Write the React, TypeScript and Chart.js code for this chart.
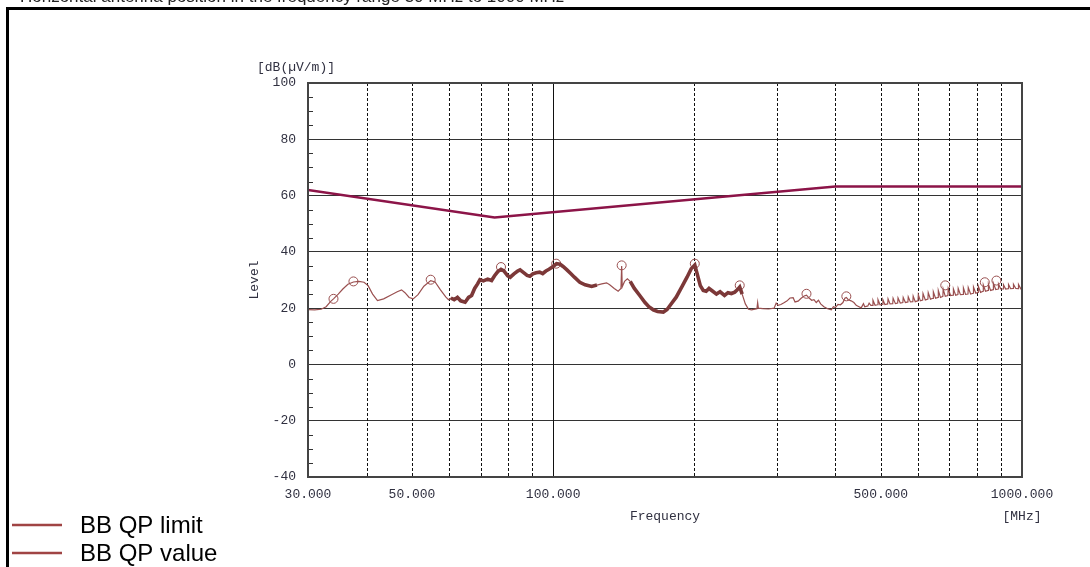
import React, { useEffect, useRef } from "react";
import { Chart, registerables } from "chart.js";

Chart.register(...registerables);

// ---- data ----
const FREQ_MHZ = [
  30, 31, 32, 32.8, 33.5, 34.0, 34.8, 35.6, 36.5, 37.5, 38.5, 39.5, 40.3, 41.2, 42.2, 43.5, 45, 46.5, 47.5, 48.3,
  49.3, 50.3, 51.5, 53, 54.8, 56, 57.5, 59, 59.8, 60.5, 61.5, 62.5, 63.5, 64.9, 66, 67, 68, 69, 69.8, 71,
  72.5, 73.9, 75, 76.2, 77.4, 78.5, 80, 81, 82.5, 84, 85, 86.5, 88, 89.2, 90.5, 92, 93.6, 95, 96.5, 98,
  100, 101.7, 103.5, 105, 107, 109, 111, 114, 117, 120.8, 124, 127, 130, 132, 135, 137.6, 139.5, 140, 140.4, 142,
  144, 146, 149, 153, 157, 160, 163.5, 167, 171.8, 175, 178, 183, 188, 193, 197, 200.5, 203, 206, 209, 212,
  215, 219, 223, 227, 232, 236, 240, 244, 247, 250, 253, 257, 261, 265, 272, 273, 274, 280, 288, 296,
  299, 302, 306, 310, 315, 320, 325, 328, 333, 338, 343, 347, 352, 356, 360, 364, 368, 372, 378, 385,
  392, 396, 400, 405, 410, 415, 419, 422, 426, 432, 438, 443, 448, 454, 459, 462, 469, 472, 476,
  480, 481, 486, 492, 493, 498, 504, 505, 510, 517, 518, 523, 530, 531, 537, 543, 544, 550,
  557, 558, 564, 571, 572, 578, 585, 586, 592, 600, 601, 607, 614, 615, 622, 630, 631, 638,
  646, 647, 654, 662, 663, 670, 678, 679, 686, 695, 696, 704, 713, 714, 722, 730, 731, 739,
  749, 750, 758, 767, 768, 777, 787, 788, 797, 806, 807, 816, 826, 827, 836, 847, 848, 857,
  868, 869, 879, 890, 891, 901, 912, 913, 923, 935, 936, 946, 958, 959, 970, 982, 983, 994, 1000,
];
const LEVEL_DB = [
  19.5, 19.4, 19.6, 20.5, 22.3, 23.3, 25.0, 26.8, 28.5, 29.3, 29.5, 29.2, 28.0, 25.0, 22.7, 23.3, 24.6, 25.8, 26.5, 25.5,
  23.8, 23.3, 24.8, 27.8, 29.8, 29.3, 26.5, 24.0, 23.0, 23.6, 23.0, 23.8, 22.6, 22.1, 23.8, 24.5, 27.0, 28.6, 30.1, 29.7,
  30.3, 29.8, 31.5, 33.0, 33.8, 33.2, 31.5, 31.0, 32.2, 33.2, 33.6, 32.6, 31.6, 31.3, 32.2, 32.6, 32.8, 32.3, 33.2, 33.8,
  34.8, 35.8, 35.6, 34.8, 33.6, 32.3, 31.0, 29.2, 28.3, 27.7, 28.2, 28.6, 29.0, 28.3, 27.0, 26.0, 27.0, 35.0, 27.6, 29.5,
  30.4, 29.5, 27.0, 24.5, 22.0, 20.5, 19.4, 18.8, 18.6, 19.5, 21.2, 23.9, 27.5, 31.0, 34.0, 35.3, 32.0, 28.0, 26.3, 26.0,
  27.0, 26.0, 25.0, 25.8, 24.5, 25.5, 25.2, 25.7, 26.5, 27.5, 25.0, 21.5, 19.6, 19.4, 19.8, 22.0, 20.0, 19.8, 19.7, 20.0,
  21.8, 21.0, 21.3, 21.8, 22.5, 23.6, 23.7, 22.2, 22.5, 23.5, 24.3, 24.6, 23.5, 22.8, 23.0, 22.0, 22.8, 21.5, 20.5, 19.8,
  19.4, 20.5, 20.2, 21.3, 21.2, 22.0, 23.5, 23.8, 23.0, 22.6, 22.0, 21.0, 20.6, 20.1, 21.6, 20.5, 20.8, 21.8, 21.0,
  21.0, 22.8, 21.0, 21.2, 23.0, 21.2, 21.3, 23.0, 21.3, 21.5, 23.3, 21.5, 21.6, 23.5, 21.6, 21.8, 23.6, 21.8,
  22.0, 23.8, 22.0, 22.2, 24.0, 22.2, 22.3, 24.3, 22.3, 22.6, 24.8, 22.6, 22.9, 25.2, 22.9, 23.2, 25.5, 23.2,
  23.5, 25.8, 23.5, 23.8, 26.3, 23.8, 24.2, 26.8, 24.2, 24.5, 27.0, 24.5, 24.6, 26.8, 24.6, 24.8, 27.0, 24.8,
  24.9, 27.2, 24.9, 25.0, 27.3, 25.0, 25.3, 27.5, 25.3, 25.6, 27.8, 25.6, 26.0, 28.2, 26.0, 26.3, 28.5, 26.3,
  26.6, 28.8, 26.6, 26.8, 28.6, 26.8, 26.8, 28.3, 26.8, 26.9, 28.4, 26.9, 27.0, 28.5, 27.0, 26.9, 28.4, 26.9, 27.3,
];
const LIMIT_FREQ_MHZ = [30, 75, 400, 1000];
const LIMIT_DB = [62.0, 52.2, 63.2, 63.2];
const PEAK_FREQ_MHZ = [34.0, 37.5, 54.8, 77.4, 101.5, 140, 200.5, 250, 347, 422, 686, 833, 882];
const PEAK_DB = [23.3, 29.5, 30.1, 34.6, 35.8, 35.2, 35.8, 28.1, 25.1, 24.2, 28.1, 29.2, 29.8];

const X_LABEL_TICKS = [30, 50, 100, 500, 1000];
const X_GRID_MHZ = [40, 50, 60, 70, 80, 90, 100, 200, 300, 400, 500, 600, 700, 800, 900];
const X_SOLID_GRID_MHZ = [100];
const Y_MINOR_DB = [-35, -30, -25, -15, -10, -5, 5, 10, 15, 25, 30, 35, 45, 50, 55, 65, 70, 75, 85, 90, 95];
const SERIES_NAMES = ["BB QP limit", "BB QP value"];
const Y_UNIT = "[dB(\u00B5V/m)]";
const Y_TITLE = "Level";
const X_TITLE = "Frequency";
const X_UNIT = "[MHz]";
const CAPTION = "Horizontal antenna position in the frequency range 30 MHz to 1000 MHz";

// ---- style ----
const THICK_RANGES = [
  [60, 123],
  [146, 251],
];
const MONO = "'Liberation Mono', 'DejaVu Sans Mono', monospace";
const SANS = "'Liberation Sans', Arial, sans-serif";
const LIMIT_COLOR = "#8c1448";
const VALUE_COLOR_THICK = "#7c3838";
const VALUE_COLOR_THIN = "#9a5050";
const LEGEND_COLOR = "#a04444";
const TEXT_COLOR = "#303040";

const isThick = (f: number) => THICK_RANGES.some(([a, b]) => f >= a && f < b);

const decor = {
  id: "decor",
  beforeDraw(chart: any) {
    const ctx = chart.ctx;
    ctx.save();
    ctx.fillStyle = "#fff";
    ctx.fillRect(0, 0, chart.width, chart.height);
    ctx.fillStyle = "#222";
    ctx.font = `17px ${SANS}`;
    ctx.textAlign = "left";
    ctx.textBaseline = "alphabetic";
    ctx.fillText(CAPTION, 20, 2);
    ctx.fillStyle = "#000";
    ctx.fillRect(6, 7, chart.width - 6, 3);
    ctx.fillRect(6, 7, 3, chart.height - 7);
    ctx.restore();
  },
  beforeDatasetsDraw(chart: any) {
    const { ctx, chartArea: a, scales } = chart;
    const x = scales.x;
    const y = scales.y;
    ctx.save();
    ctx.lineWidth = 1;
    ctx.strokeStyle = "#111";
    X_GRID_MHZ.forEach((f) => {
      const px = Math.round(x.getPixelForValue(f)) + 0.5;
      ctx.beginPath();
      ctx.setLineDash(X_SOLID_GRID_MHZ.includes(f) ? [] : [3, 2]);
      ctx.moveTo(px, a.top);
      ctx.lineTo(px, a.bottom);
      ctx.stroke();
    });
    ctx.setLineDash([]);
    ctx.strokeStyle = "#333";
    ctx.beginPath();
    Y_MINOR_DB.forEach((v) => {
      const py = Math.round(y.getPixelForValue(v)) + 0.5;
      ctx.moveTo(a.left, py);
      ctx.lineTo(a.left + 5, py);
    });
    ctx.stroke();
    ctx.restore();
  },
  afterDatasetsDraw(chart: any) {
    const { ctx, chartArea: a } = chart;
    ctx.save();
    ctx.strokeStyle = "#444";
    ctx.lineWidth = 2;
    ctx.strokeRect(a.left, a.top, a.right - a.left, a.bottom - a.top);

    ctx.fillStyle = TEXT_COLOR;
    ctx.font = `13px ${MONO}`;
    ctx.textAlign = "center";
    ctx.textBaseline = "middle";
    ctx.fillText(Y_UNIT, a.left - 12, a.top - 15);
    ctx.fillText(X_TITLE, (a.left + a.right) / 2, a.bottom + 40);
    ctx.fillText(X_UNIT, a.right, a.bottom + 40);
    ctx.save();
    ctx.translate(a.left - 53, (a.top + a.bottom) / 2);
    ctx.rotate(-Math.PI / 2);
    ctx.fillText(Y_TITLE, 0, 0);
    ctx.restore();

    // legend
    ctx.font = `24px ${SANS}`;
    ctx.textAlign = "left";
    ctx.fillStyle = "#000";
    const rows = [525, 553];
    SERIES_NAMES.forEach((name, i) => {
      const yy = rows[i];
      ctx.strokeStyle = LEGEND_COLOR;
      ctx.lineWidth = 2.5;
      ctx.beginPath();
      ctx.moveTo(12, yy);
      ctx.lineTo(62, yy);
      ctx.stroke();
      ctx.fillText(name, 80, yy + 1);
    });
    ctx.restore();
  },
};

export default function App() {
  const ref = useRef<HTMLCanvasElement | null>(null);
  useEffect(() => {
    if (!ref.current) return;
    const valuePoints = FREQ_MHZ.map((f, i) => ({ x: f, y: LEVEL_DB[i] }));
    const limitPoints = LIMIT_FREQ_MHZ.map((f, i) => ({ x: f, y: LIMIT_DB[i] }));
    const peakPoints = PEAK_FREQ_MHZ.map((f, i) => ({ x: f, y: PEAK_DB[i] }));
    const chart = new Chart(ref.current, {
      type: "line",
      data: {
        datasets: [
          {
            label: SERIES_NAMES[0],
            data: limitPoints,
            borderColor: LIMIT_COLOR,
            borderWidth: 2.6,
            pointRadius: 0,
            tension: 0,
          },
          {
            label: SERIES_NAMES[1],
            data: valuePoints,
            borderColor: VALUE_COLOR_THIN,
            borderWidth: 1.2,
            pointRadius: 0,
            tension: 0,
            segment: {
              borderWidth: (c: any) => (isThick(c.p0.parsed.x) ? 3.6 : 1.2),
              borderColor: (c: any) => (isThick(c.p0.parsed.x) ? VALUE_COLOR_THICK : VALUE_COLOR_THIN),
            },
          },
          {
            label: "peaks",
            data: peakPoints,
            showLine: false,
            pointRadius: 4.5,
            pointStyle: "circle",
            pointBorderColor: VALUE_COLOR_THIN,
            pointBackgroundColor: "rgba(0,0,0,0)",
            pointBorderWidth: 1,
            borderColor: VALUE_COLOR_THIN,
          },
        ],
      } as any,
      options: {
        animation: false,
        responsive: false,
        events: [],
        layout: { padding: { top: 83, right: 68, left: 0, bottom: 0 } },
        plugins: { legend: { display: false }, tooltip: { enabled: false }, title: { display: false } },
        scales: {
          x: {
            type: "logarithmic",
            min: 30,
            max: 1000,
            grid: { display: false, drawTicks: false },
            border: { display: false },
            afterBuildTicks: (scale: any) => {
              scale.ticks = X_LABEL_TICKS.map((v) => ({ value: v }));
            },
            afterFit: (scale: any) => {
              scale.height = 90;
            },
            ticks: {
              autoSkip: false,
              maxRotation: 0,
              padding: 10,
              color: TEXT_COLOR,
              font: { family: MONO, size: 13 },
              callback: (v: any) => Number(v).toFixed(3),
            },
          },
          y: {
            min: -40,
            max: 100,
            grid: { color: "#333", lineWidth: 1, drawTicks: false },
            border: { display: false },
            afterFit: (scale: any) => {
              scale.width = 308;
            },
            ticks: {
              stepSize: 20,
              padding: 12,
              color: TEXT_COLOR,
              font: { family: MONO, size: 13 },
            },
          },
        },
      } as any,
      plugins: [decor],
    });
    return () => chart.destroy();
  }, []);
  return (
    <div style={{ position: "absolute", left: 0, top: 0, width: 1090, height: 567 }}>
      <canvas ref={ref} width={1090} height={567} />
    </div>
  );
}
